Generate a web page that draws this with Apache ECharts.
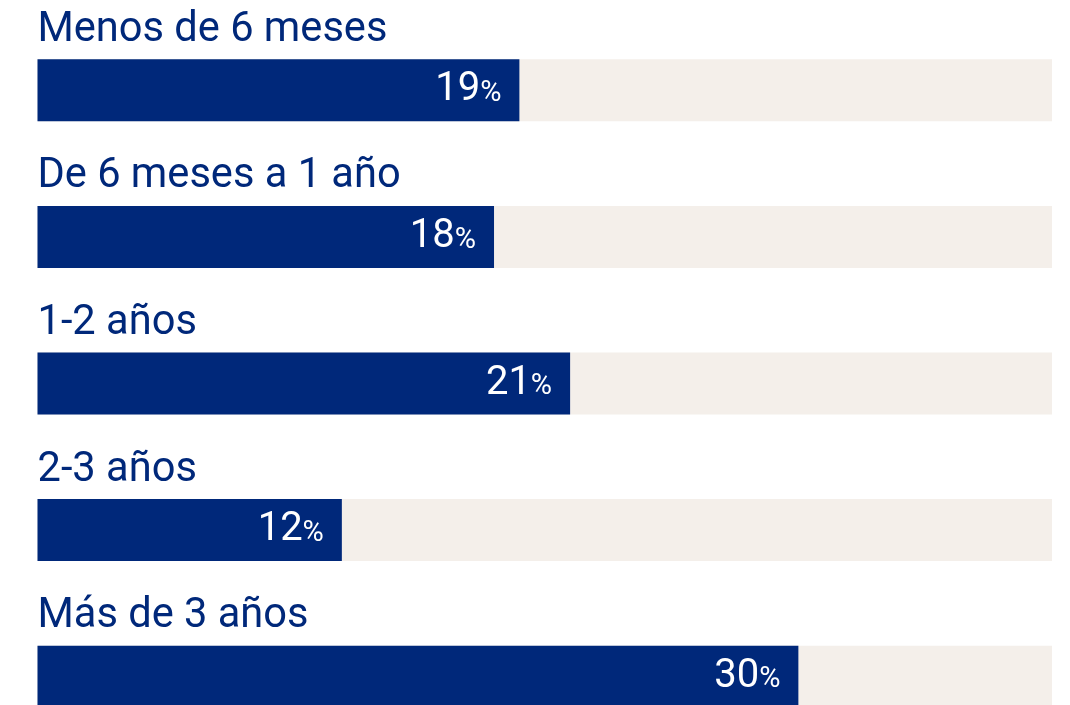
<!DOCTYPE html>
<html>
<head>
<meta charset="utf-8">
<script src="https://cdn.jsdelivr.net/npm/echarts@6/dist/echarts.min.js"></script>
<style>
  html, body { margin: 0; padding: 0; background: #fff; overflow: hidden; }
  /* taller than the window: the last row is cut by the bottom edge, as in the original */
  #chart { width: 1070px; height: 750px; }
</style>
</head>
<body>
<div id="chart"></div>
<script>
const categories = ['Menos de 6 meses', 'De 6 meses a 1 año', '1-2 años', '2-3 años', 'Más de 3 años']
const values = [19, 18, 21, 12, 30]
const maxValue = 40
const track = categories.map(() => maxValue)

const navy = '#00287a'
const beige = '#f4efea'

const chart = echarts.init(document.getElementById('chart'))

const option = {
  backgroundColor: '#ffffff',
  animation: false,
  grid: { left: 37.5, right: 18, top: 17, bottom: 0 },
  xAxis: { type: 'value', min: 0, max: maxValue, show: false },
  yAxis: { type: 'category', data: categories, inverse: true, show: false },
  series: [
    {
      // the beige track with the category name above it
      type: 'bar',
      data: track,
      barWidth: 62,
      barGap: '-100%',
      silent: true,
      itemStyle: { color: beige },
      label: {
        show: true,
        position: [0, -8],
        align: 'left',
        verticalAlign: 'bottom',
        fontFamily: 'Roboto',
        fontSize: 41.6,
        color: navy,
        formatter: p => categories[p.dataIndex]
      }
    },
    {
      type: 'bar',
      data: values,
      barWidth: 62,
      barGap: '-100%',
      itemStyle: { color: navy },
      label: {
        show: true,
        position: 'insideRight',
        distance: 18,
        formatter: p => '{v|' + p.value + '}{p|%}',
        rich: {
          v: { fontFamily: 'Roboto', fontSize: 40, color: '#fff', verticalAlign: 'bottom' },
          p: { fontFamily: 'Roboto', fontSize: 29, color: '#fff', verticalAlign: 'bottom', padding: [0, 0, 2, 0] }
        }
      }
    }
  ]
}

chart.setOption(option)
</script>
</body>
</html>
